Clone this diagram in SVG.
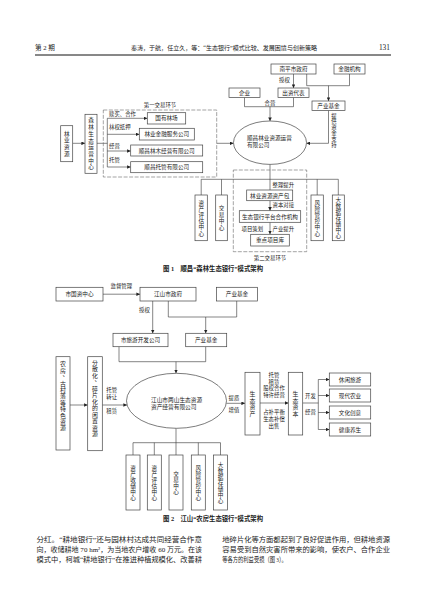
<svg xmlns="http://www.w3.org/2000/svg" width="427" height="603" viewBox="0 0 427 603">
<defs>
<marker id="ah" viewBox="0 0 6 6" refX="6" refY="3" markerWidth="3.6" markerHeight="3.6" orient="auto" markerUnits="userSpaceOnUse"><path d="M0,0 L6,3 L0,6 z" fill="#222"/></marker>
<style>
.b{fill:#fff;stroke:#444;stroke-width:0.7}
.d{fill:none;stroke:#666;stroke-width:0.6;stroke-dasharray:4 1.5}
.l{fill:none;stroke:#333;stroke-width:0.6}
.a{fill:none;stroke:#333;stroke-width:0.6;marker-end:url(#ah)}
text{font-family:"Liberation Serif","Noto Sans CJK SC",serif;fill:#222}
.t{font-size:5.6px;text-anchor:middle}
.s{font-size:5.4px;text-anchor:start}
.m{font-size:5.4px;text-anchor:middle}
.v{font-size:5.6px;text-anchor:middle}
.v2{font-size:5.9px;text-anchor:middle}
.cap{font-size:6.4px;font-weight:bold;text-anchor:middle}
.body{font-size:7px}
</style>
</defs>
<rect width="427" height="603" fill="#fff"/>

<g id="header">
<text x="35" y="50" style="font-size:6.6px">第 2 期</text>
<text x="131" y="50" style="font-size:6.2px" textLength="186" lengthAdjust="spacingAndGlyphs">秦涛，于航，任立久，等：“生态银行”模式比较、发展困境与创新策略</text>
<text x="390" y="50" style="font-size:7.4px;text-anchor:end">131</text>
<line x1="35" y1="55" x2="391" y2="55" stroke="#111" stroke-width="1"/>
</g>

<!-- Figure 1 -->
<g id="fig1-connectors">
<line class="a" x1="72.7" y1="143.3" x2="85" y2="143.3"/>
<line class="l" x1="97" y1="143.3" x2="107.3" y2="143.3"/>
<line class="l" x1="107.3" y1="118.3" x2="107.3" y2="167"/>
<line class="a" x1="107.3" y1="118.3" x2="147.3" y2="118.3"/>
<line class="a" x1="107.3" y1="134.3" x2="139.3" y2="134.3"/>
<line class="a" x1="107.3" y1="151" x2="130.7" y2="151"/>
<line class="a" x1="107.3" y1="167" x2="130.7" y2="167"/>
<line class="a" x1="216.7" y1="143.3" x2="233.5" y2="143.3"/>
<line class="a" x1="293.5" y1="74" x2="293.5" y2="88"/>
<polyline class="l" points="306.7,74 306.7,85.7 349.5,85.7"/>
<line class="l" x1="349.5" y1="74" x2="349.5" y2="85.7"/>
<line class="a" x1="328.5" y1="85.7" x2="328.5" y2="101"/>
<polyline class="l" points="244.5,97.5 244.5,106.7 293.5,106.7 293.5,97.5"/>
<line class="a" x1="270" y1="106.7" x2="270" y2="121"/>
<polyline class="a" points="328.5,110.5 328.5,143.3 306.5,143.3"/>
<line class="l" x1="270" y1="164.4" x2="270" y2="190"/>
<line class="l" x1="201.2" y1="179.3" x2="338.3" y2="179.3"/>
<line class="l" x1="201.2" y1="179.3" x2="201.2" y2="195"/>
<line class="l" x1="221.5" y1="179.3" x2="221.5" y2="195"/>
<line class="l" x1="317.2" y1="179.3" x2="317.2" y2="195"/>
<line class="l" x1="338.3" y1="179.3" x2="338.3" y2="195"/>
<line class="a" x1="270" y1="200.7" x2="270" y2="210.7"/>
<line class="a" x1="270" y1="222.3" x2="270" y2="234.3"/>
<text class="m" x="284.5" y="82">授权</text>
<text class="m" x="270" y="105">合营</text>
<text class="m" x="334 334 334 334 334 334" y="117.5 123.3 129.1 134.9 140.7 146.5">提供资金支持</text>
<text class="s" x="109" y="116.3">赎买、合作</text>
<text class="s" x="109" y="129.3">林权抵押</text>
<text class="s" x="109" y="147.7">经营</text>
<text class="s" x="109" y="162.3">托管</text>
<text class="s" x="272.5" y="187">整理提升</text>
<text class="s" x="272.5" y="207">资本对接</text>
<text class="m" x="252.3" y="231">项目策划</text>
<text class="s" x="272.5" y="231">产业提升</text>
</g>

<g id="stage1"><rect class="d" x="103.3" y="110" width="113.4" height="67"/><text class="m" x="160" y="107">第一交易环节</text></g>
<g id="stage2"><rect class="d" x="233.3" y="170" width="73.4" height="81.7"/><text class="m" x="270" y="260.3">第二交易环节</text></g>
<g id="n-nanping"><rect class="b" x="271" y="64" width="45" height="10"/><text class="t" x="293.5" y="71.2">南平市政府</text></g>
<g id="n-jinrong"><rect class="b" x="334" y="64" width="31" height="10"/><text class="t" x="349.5" y="71.2">金融机构</text></g>
<g id="n-chuzi"><rect class="b" x="278" y="88" width="31" height="9.5"/><text class="t" x="293.5" y="94.8">出资代表</text></g>
<g id="n-qiye"><rect class="b" x="229" y="88" width="31" height="9.5"/><text class="t" x="244.5" y="94.8">企业</text></g>
<g id="n-chanye1"><rect class="b" x="312" y="101" width="33" height="9.5"/><text class="t" x="328.5" y="107.8">产业基金</text></g>
<g id="n-yunying1"><ellipse class="b" cx="270" cy="142.7" rx="36.5" ry="21.7"/><text class="s" x="247" y="140" style="font-size:5.6px">顺昌林业资源运营</text><text class="s" x="247" y="147" style="font-size:5.6px">有限公司</text></g>
<g id="n-linye"><rect class="b" x="60.7" y="125.7" width="12" height="36"/><text class="v" x="66.7 66.7 66.7 66.7" y="135.6 142.4 149.2 156">林业资源</text></g>
<g id="n-senlin"><rect class="b" x="85" y="114.3" width="12" height="59"/><text class="v" x="91 91 91 91 91 91 91 91" y="122.4 129.1 135.8 142.5 149.2 155.9 162.6 169.3">森林生态运营中心</text></g>
<g id="n-guoyou"><rect class="b" x="147.3" y="112.7" width="38.4" height="11.3"/><text class="t" x="166.5" y="120.3">国有林场</text></g>
<g id="n-jinrongfw"><rect class="b" x="139.3" y="128.3" width="55" height="11.7"/><text class="t" x="166.8" y="136.2">林业金融服务公司</text></g>
<g id="n-linmu"><rect class="b" x="130.7" y="145" width="72" height="11"/><text class="t" x="166.7" y="152.5">顺昌林木经营有限公司</text></g>
<g id="n-tuoguan"><rect class="b" x="130.7" y="161.7" width="72" height="11"/><text class="t" x="166.7" y="169.2">顺昌托管有限公司</text></g>
<g id="n-zcbao"><rect class="b" x="246.7" y="190" width="46" height="10.7"/><text class="t" x="269.7" y="197.5">林业资源资产包</text></g>
<g id="n-pingtai"><rect class="b" x="239.3" y="210.7" width="61.4" height="11.6"/><text class="t" x="270" y="218.6">生态银行平台合作机构</text></g>
<g id="n-xiangmu"><rect class="b" x="250.7" y="234.3" width="38.6" height="11.7"/><text class="t" x="270" y="242.3">重点项目库</text></g>
<g id="n-pinggu1"><rect class="b" x="195" y="195" width="12.3" height="45.7"/><text class="v" x="201.2 201.2 201.2 201.2 201.2 201.2" y="204.6 210.8 217 223.2 229.4 235.6">资产评估中心</text></g>
<g id="n-jiaoyi1"><rect class="b" x="215.7" y="195" width="11.6" height="45.7"/><text class="v" x="221.5 221.5 221.5 221.5" y="210.4 216.9 223.4 229.9">交易中心</text></g>
<g id="n-fengxian1"><rect class="b" x="311" y="195" width="12.3" height="45.7"/><text class="v" x="317.2 317.2 317.2 317.2 317.2 317.2" y="204.6 210.8 217 223.2 229.4 235.6">风险管控中心</text></g>
<g id="n-dashuju1"><rect class="b" x="332.3" y="195" width="12" height="45.7"/><text class="v" x="338.3 338.3 338.3 338.3 338.3 338.3 338.3" y="202.1 208.1 214.1 220.1 226.1 232.1 238.1">大数据存储中心</text></g>
<text class="cap" x="213" y="271" textLength="100" lengthAdjust="spacingAndGlyphs">图 1　顺昌“森林生态银行”模式架构</text>

<!-- Figure 2 -->
<g id="fig2-connectors">
<line class="a" x1="103" y1="294.2" x2="140" y2="294.2"/>
<line class="a" x1="152.7" y1="301" x2="152.7" y2="333.3"/>
<polyline class="l" points="168.3,301 168.3,317 236.7,317 236.7,301"/>
<line class="a" x1="205.7" y1="317" x2="205.7" y2="333.3"/>
<polyline class="l" points="119,346.7 119,361.7 205.7,361.7 205.7,346.7"/>
<line class="a" x1="176" y1="361.7" x2="176" y2="373.3"/>
<line class="a" x1="70" y1="405" x2="87.7" y2="405"/>
<line class="a" x1="102.3" y1="405" x2="127" y2="405"/>
<line class="a" x1="226.3" y1="403.3" x2="245" y2="403.3"/>
<line class="a" x1="260" y1="403" x2="288.3" y2="403"/>
<line class="l" x1="302.7" y1="403" x2="318.3" y2="403"/>
<line class="l" x1="318.3" y1="379.5" x2="318.3" y2="429.5"/>
<line class="a" x1="318.3" y1="379.5" x2="329.3" y2="379.5"/>
<line class="a" x1="318.3" y1="395.5" x2="329.3" y2="395.5"/>
<line class="a" x1="318.3" y1="412.5" x2="329.3" y2="412.5"/>
<line class="a" x1="318.3" y1="429.5" x2="329.3" y2="429.5"/>
<line class="l" x1="176" y1="428.3" x2="176" y2="442.7"/>
<line class="l" x1="133" y1="442.7" x2="220.5" y2="442.7"/>
<line class="l" x1="133" y1="442.7" x2="133" y2="455"/>
<line class="l" x1="154.3" y1="442.7" x2="154.3" y2="455"/>
<line class="l" x1="176" y1="442.7" x2="176" y2="455"/>
<line class="l" x1="198.3" y1="442.7" x2="198.3" y2="455"/>
<line class="l" x1="220.5" y1="442.7" x2="220.5" y2="455"/>
<text class="m" x="121.3" y="287.5">监督管理</text>
<text class="m" x="144.5" y="312">授权</text>
<text class="m" x="111.7" y="392">托管</text>
<text class="m" x="111.7" y="398.7">转让</text>
<text class="m" x="111.7" y="413">租赁</text>
<text class="m" x="234" y="400.3">提质</text>
<text class="m" x="234" y="412">增值</text>
<text class="m" x="274" y="377">托管</text>
<text class="m" x="274" y="383.5">租赁</text>
<text class="m" x="274" y="390">股权合作</text>
<text class="m" x="274" y="396.7">特许经营</text>
<text class="m" x="274" y="414">占补平衡</text>
<text class="m" x="274" y="421">生态补偿</text>
<text class="m" x="274" y="428">出售</text>
<text class="m" x="310.5" y="398">开发</text>
<text class="m" x="310.5" y="414">经营</text>
</g>

<g id="n-guozi"><rect class="b" x="56" y="287.3" width="47" height="13.7"/><text class="t" x="79.5" y="296.3">市国资中心</text></g>
<g id="n-jiangshan"><rect class="b" x="140" y="287.3" width="56" height="13.7"/><text class="t" x="168" y="296.3">江山市政府</text></g>
<g id="n-chanye2a"><rect class="b" x="216.5" y="287.3" width="41" height="13.7"/><text class="t" x="237" y="296.3">产业基金</text></g>
<g id="n-lvyou"><rect class="b" x="113" y="333.3" width="55" height="13.4"/><text class="t" x="140.5" y="342.2">市旅游开发公司</text></g>
<g id="n-chanye2b"><rect class="b" x="185.7" y="333.3" width="41" height="13.4"/><text class="t" x="206.2" y="342.2">产业基金</text></g>
<g id="n-liangshan"><ellipse class="b" cx="176.5" cy="400.8" rx="50" ry="27.5"/><text class="s" x="151" y="402" style="font-size:5.7px">江山市两山生态资源</text><text class="s" x="151" y="408.7" style="font-size:5.7px">资产经营有限公司</text></g>
<g id="n-nongfang"><rect class="b" x="56" y="356.7" width="14" height="93.3"/><text class="v2" x="63 63 65.5 63 63 63 63 63 63 63 63" y="366.3 372.7 375.6 385.5 391.9 398.3 404.7 411.1 417.5 423.9 430.3">农房、古村落等特色资源</text></g>
<g id="n-fensan"><rect class="b" x="87.7" y="356.7" width="14.6" height="94"/><text class="v2" x="95 95 95 97.5 95 95 95 95 95 95 95 95" y="364.5 371 377.5 380.5 390.5 397 403.5 410 416.5 423 429.5 436">分散化、碎片化的闲置资源</text></g>
<g id="n-zichan"><rect class="b" x="245" y="372.3" width="15" height="62.7"/><text class="v2" x="252.5 252.5 252.5 252.5" y="395.8 402.5 409.2 415.9">生态资产</text></g>
<g id="n-ziben"><rect class="b" x="288.3" y="372.3" width="14.4" height="62.7"/><text class="v2" x="295.5 295.5 295.5 295.5" y="395.8 402.5 409.2 415.9">生态资本</text></g>
<g id="n-xiuxian"><rect class="b" x="329.3" y="373" width="41.4" height="13"/><text class="t" x="350" y="381.6">休闲旅游</text></g>
<g id="n-nongye"><rect class="b" x="329.3" y="389" width="41.4" height="13"/><text class="t" x="350" y="397.6">现代农业</text></g>
<g id="n-wenhua"><rect class="b" x="329.3" y="406" width="41.4" height="13"/><text class="t" x="350" y="414.6">文化创意</text></g>
<g id="n-jiankang"><rect class="b" x="329.3" y="423" width="41.4" height="13"/><text class="t" x="350" y="431.6">健康养生</text></g>
<g id="n-shouchu"><rect class="b" x="126" y="455" width="14" height="55"/><text class="v" x="133 133 133 133 133 133" y="469.6 475.6 481.6 487.6 493.6 499.6">资产收储中心</text></g>
<g id="n-pinggu2"><rect class="b" x="147.3" y="455" width="14" height="55"/><text class="v" x="154.3 154.3 154.3 154.3 154.3 154.3" y="469.6 475.6 481.6 487.6 493.6 499.6">资产评估中心</text></g>
<g id="n-jiaoyi2"><rect class="b" x="169" y="455" width="14" height="55"/><text class="v" x="176 176 176 176" y="475.6 481.6 487.6 493.6">交易中心</text></g>
<g id="n-fengxian2"><rect class="b" x="191.3" y="455" width="14" height="55"/><text class="v" x="198.3 198.3 198.3 198.3 198.3 198.3" y="469.6 475.6 481.6 487.6 493.6 499.6">风险管控中心</text></g>
<g id="n-dashuju2"><rect class="b" x="213.5" y="455" width="14" height="55"/><text class="v" x="220.5 220.5 220.5 220.5 220.5 220.5 220.5" y="466.6 472.6 478.6 484.6 490.6 496.6 502.6">大数据存储中心</text></g>
<text class="cap" x="213" y="520.5" textLength="100" lengthAdjust="spacingAndGlyphs">图 2　江山“农房生态银行”模式架构</text>

<g id="body">
<text class="body" x="36.5" y="541.5" textLength="165.5" lengthAdjust="spacingAndGlyphs">分红。“耕地银行”还与园林村达成共同经营合作意</text>
<text class="body" x="36.5" y="552" textLength="165.5" lengthAdjust="spacingAndGlyphs">向，收储耕地 70 hm²，为当地农户增收 60 万元。在该</text>
<text class="body" x="36.5" y="562" textLength="165.5" lengthAdjust="spacingAndGlyphs">模式中，柯城“耕地银行”在推进种植规模化、改善耕</text>
<text class="body" x="222.3" y="541.5" textLength="167.7" lengthAdjust="spacingAndGlyphs">地碎片化等方面都起到了良好促进作用，但耕地资源</text>
<text class="body" x="222.3" y="552" textLength="167.7" lengthAdjust="spacingAndGlyphs">容易受到自然灾害所带来的影响，使农户、合作企业</text>
<text class="body" x="222.3" y="562" textLength="64.5" lengthAdjust="spacingAndGlyphs">等各方的利益受损（图 3）。</text>
</g>
</svg>
